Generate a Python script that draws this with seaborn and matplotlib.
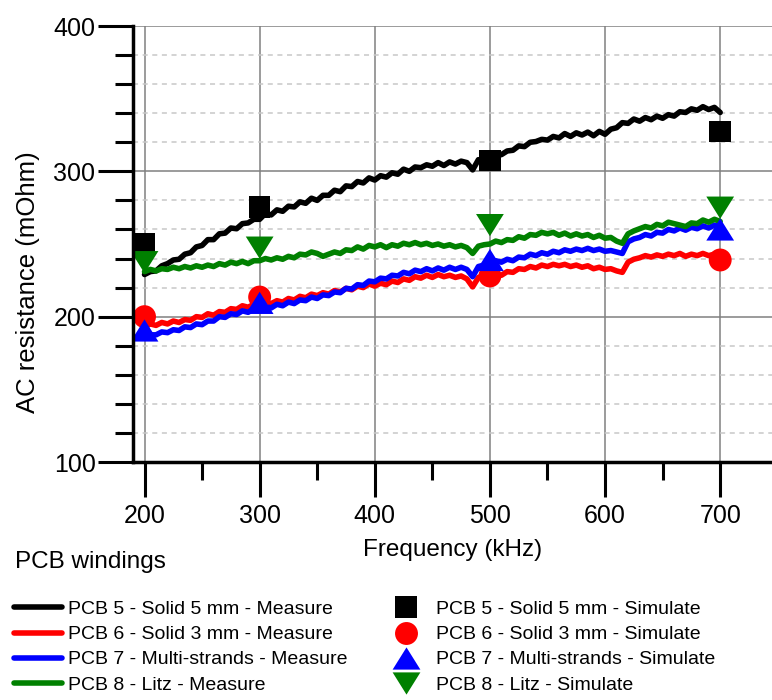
import matplotlib
matplotlib.use("Agg")
import numpy as np
import pandas as pd
import matplotlib.pyplot as plt
import seaborn as sns
from matplotlib.lines import Line2D
from matplotlib.ticker import MultipleLocator

# ---------------- data ----------------
freq_meas = list(range(200, 701, 5))  # kHz, measurement sweep

pcb5_meas = [229, 231, 231.5, 235, 236.5, 239, 239.5, 243, 244, 248,
             249, 253, 253, 257, 257.5, 261, 260.5, 264, 264.5, 267,
             267, 271, 270, 273.5, 272.5, 276, 275.5, 279, 278, 281.5,
             280, 283.5, 283.5, 287, 286, 290, 289.5, 293, 292, 295.5,
             294, 297, 296, 299, 298, 301.5, 300, 303, 302.5, 304.5,
             303.5, 306, 304, 306.5, 305, 307, 306, 301, 308, 307.5,
             310, 311, 311.5, 314, 314.5, 317.5, 317, 320, 320.5, 322,
             321.5, 324, 323, 326, 324, 326.5, 325, 327, 324.5, 327.5,
             325.5, 329, 330, 333.5, 333, 336, 334.5, 337, 335.5, 338,
             336.5, 339, 338, 341, 340.5, 343, 342, 344.5, 342.5, 344,
             340.5]

pcb6_meas = [193, 195, 194, 196, 195, 197, 196, 198, 197.5, 200,
             199.5, 202, 201, 203.5, 203, 205.5, 205, 207.5, 206.5, 208.5,
             208, 210, 209, 211, 210, 212.5, 211.5, 214, 213, 215.5,
             214.5, 216.5, 215.5, 218, 217, 219.5, 218.5, 221, 220, 222.5,
             221, 223, 222, 224.5, 223.5, 226, 225, 227.5, 226.5, 228.5,
             227, 229, 227.5, 228.5, 227, 228, 226, 220.5, 227, 228.5,
             227, 229.5, 228.5, 231, 230.5, 233, 232.5, 234.5, 233.5, 235.5,
             234.5, 236, 235, 236, 234.5, 235.5, 234, 235, 233, 234,
             232.5, 233, 231.5, 230.5, 237.5, 239.5, 240.5, 242, 241, 242.5,
             241.5, 243, 242, 243.5, 241.5, 243, 242, 243.5, 242, 243,
             241]

pcb7_meas = [186, 187.5, 187.5, 189.5, 189, 191, 190.5, 193, 192.5, 195,
             194.5, 197, 197, 200, 199.5, 202, 201.5, 204, 203, 205.5,
             205, 207, 206, 208.5, 207.5, 210, 209, 211.5, 211, 213.5,
             212.5, 215, 214.5, 217, 216.5, 219.5, 219, 222, 221.5, 224.5,
             224, 226.5, 226, 228.5, 228, 230.5, 229.5, 232, 231, 233,
             231.5, 233.5, 232, 234, 232.5, 234, 232.5, 227.5, 234.5, 235.5,
             236.5, 238.5, 237.5, 239.5, 238.5, 241, 240.5, 243, 242, 244,
             243, 245, 244, 246, 245, 246.5, 245.5, 247, 245.5, 246.5,
             245, 245.5, 244.5, 243.5, 251.5, 253.5, 254.5, 256.5, 255.5, 258,
             257.5, 260, 259, 261, 259.5, 261.5, 260.5, 262.5, 261, 263,
             262]

pcb8_meas = [231, 232.5, 231.5, 233, 232.5, 234, 233, 234.5, 233.5, 235,
             234, 235.5, 234.5, 236.5, 235.5, 237.5, 236.5, 238, 236.5, 238.5,
             238.5, 240, 239, 240.5, 239.5, 241.5, 240.5, 243, 242.5, 244.5,
             243.5, 241.5, 243, 244.5, 243.5, 246, 245.5, 248, 246.5, 249,
             248, 249.5, 247.5, 249.5, 248.5, 250.5, 249.5, 251, 249.5, 250.5,
             249, 250, 248.5, 249.5, 248, 249, 247.5, 243.5, 248.5, 249.5,
             250, 252, 251, 253, 252.5, 255, 254, 256.5, 256, 258,
             257, 258, 256, 257.5, 255.5, 257, 255.5, 256.5, 254.5, 256,
             254, 254.5, 252, 250.5, 257, 259, 260.5, 262, 261, 263.5,
             262.5, 265, 264, 263, 262, 264.5, 264, 266.5, 265, 267,
             265.5]

freq_sim = [200, 300, 500, 700]
pcb5_sim = [250, 275.5, 307.5, 327.5]
pcb6_sim = [200, 213.5, 228, 239]
pcb7_sim = [190.5, 209.5, 239, 260]
pcb8_sim = [237.5, 247.5, 263, 275]

series_names = ["PCB 5", "PCB 6", "PCB 7", "PCB 8"]
meas_labels = ["PCB 5 - Solid 5 mm - Measure", "PCB 6 - Solid 3 mm - Measure",
               "PCB 7 - Multi-strands - Measure", "PCB 8 - Litz - Measure"]
sim_labels = ["PCB 5 - Solid 5 mm - Simulate", "PCB 6 - Solid 3 mm - Simulate",
              "PCB 7 - Multi-strands - Simulate", "PCB 8 - Litz - Simulate"]
colors = ["#000000", "#ff0000", "#0000ff", "#008000"]

x_ticks = [200, 300, 400, 500, 600, 700]
y_ticks = [100, 200, 300, 400]

# ---------------- styling ----------------
sns.set_theme(style="white")
plt.rcParams["font.family"] = ["Liberation Sans", "DejaVu Sans"]
for k in ["text.color", "axes.labelcolor", "xtick.color", "ytick.color", "axes.edgecolor"]:
    plt.rcParams[k] = "black"

fig = plt.figure(figsize=(7.72, 7.0), dpi=100)
ax = fig.add_axes([133 / 772, 1 - 462 / 700, 1 - 133 / 772, (462 - 26) / 700])

meas_df = pd.concat([
    pd.DataFrame({"freq": freq_meas, "R": vals, "series": name})
    for name, vals in zip(series_names, [pcb5_meas, pcb6_meas, pcb7_meas, pcb8_meas])
])
sim_df = pd.concat([
    pd.DataFrame({"freq": freq_sim, "R": vals, "series": name})
    for name, vals in zip(series_names, [pcb5_sim, pcb6_sim, pcb7_sim, pcb8_sim])
])

LW = 4.0
palette = dict(zip(series_names, colors))
sns.lineplot(data=meas_df, x="freq", y="R", hue="series", hue_order=series_names,
             palette=palette, estimator=None, sort=False, legend=False, ax=ax,
             linewidth=LW, solid_capstyle="round", solid_joinstyle="round", zorder=3)

tri_up = [(-1, -0.8), (1, -0.8), (0, 0.8)]
tri_dn = [(-1, 0.8), (1, 0.8), (0, -0.8)]
sim_markers = ["s", "o", tri_up, tri_dn]
sim_ms = [15.5, 16.5, 20, 20]
for name, mk, ms, col in zip(series_names, sim_markers, sim_ms, colors):
    sub = sim_df[sim_df["series"] == name]
    sns.scatterplot(data=sub, x="freq", y="R", marker=mk, s=ms ** 2, color=col,
                    edgecolor="none", linewidth=0, ax=ax, zorder=4, legend=False)

# ---------------- axes ----------------
ax.set_xlim(190, 745)
ax.set_ylim(100, 400)
ax.set_xticks(x_ticks)
ax.set_yticks(y_ticks)
ax.xaxis.set_minor_locator(MultipleLocator(50))
ax.yaxis.set_minor_locator(MultipleLocator(20))

for s in ["top", "right"]:
    ax.spines[s].set_visible(False)
for s in ["left", "bottom"]:
    ax.spines[s].set_linewidth(2.5)
    ax.spines[s].set_zorder(5)

ax.tick_params(which="major", direction="out", length=25, width=2.2, labelsize=18,
               left=True, bottom=True)
ax.tick_params(which="minor", direction="out", length=13, width=2.2, left=True, bottom=True)
ax.tick_params(axis="x", pad=5)
ax.tick_params(axis="y", pad=2)

ax.grid(axis="x", which="major", color="#808080", linewidth=1.1, linestyle="-")
ax.grid(axis="y", which="major", color="#808080", linewidth=1.1, linestyle="-")
ax.grid(axis="y", which="minor", color="#c8c8c8", linewidth=1.1, linestyle=(0, (3.3, 3)))
ax.set_axisbelow(True)
for t in ax.yaxis.get_major_ticks():
    if t.get_loc() == 400:
        t.gridline.set_visible(False)

ax.set_xlabel("Frequency (kHz)", fontsize=17.5)
ax.set_ylabel("AC resistance (mOhm)", fontsize=18.5)
ax.xaxis.set_label_coords(0.5, -0.176)
ax.yaxis.set_label_coords(-0.146, 0.412)

# ---------------- legends ----------------
fig.text(15 / 772, 1 - 562 / 700, "PCB windings", fontsize=17.5, ha="left", va="center")

meas_handles = [Line2D([], [], color=c, linewidth=LW, solid_capstyle="round") for c in colors]
sim_handles = [Line2D([], [], color=c, linestyle="none", marker=m, markersize=ms,
                      markeredgewidth=0)
               for c, m, ms in zip(colors, sim_markers, sim_ms)]

leg_kw = dict(loc="upper left", bbox_transform=fig.transFigure, frameon=False,
              borderpad=0, borderaxespad=0, handlelength=2.47, handletextpad=0.31,
              labelspacing=0.39, fontsize=14)
top_y = 1 - 600.5 / 700
leg1 = fig.legend(meas_handles, meas_labels, bbox_to_anchor=(14 / 772, top_y), **leg_kw)
leg2 = fig.legend(sim_handles, sim_labels, bbox_to_anchor=(382 / 772, top_y), **leg_kw)

fig.savefig("out.png", dpi=100)
